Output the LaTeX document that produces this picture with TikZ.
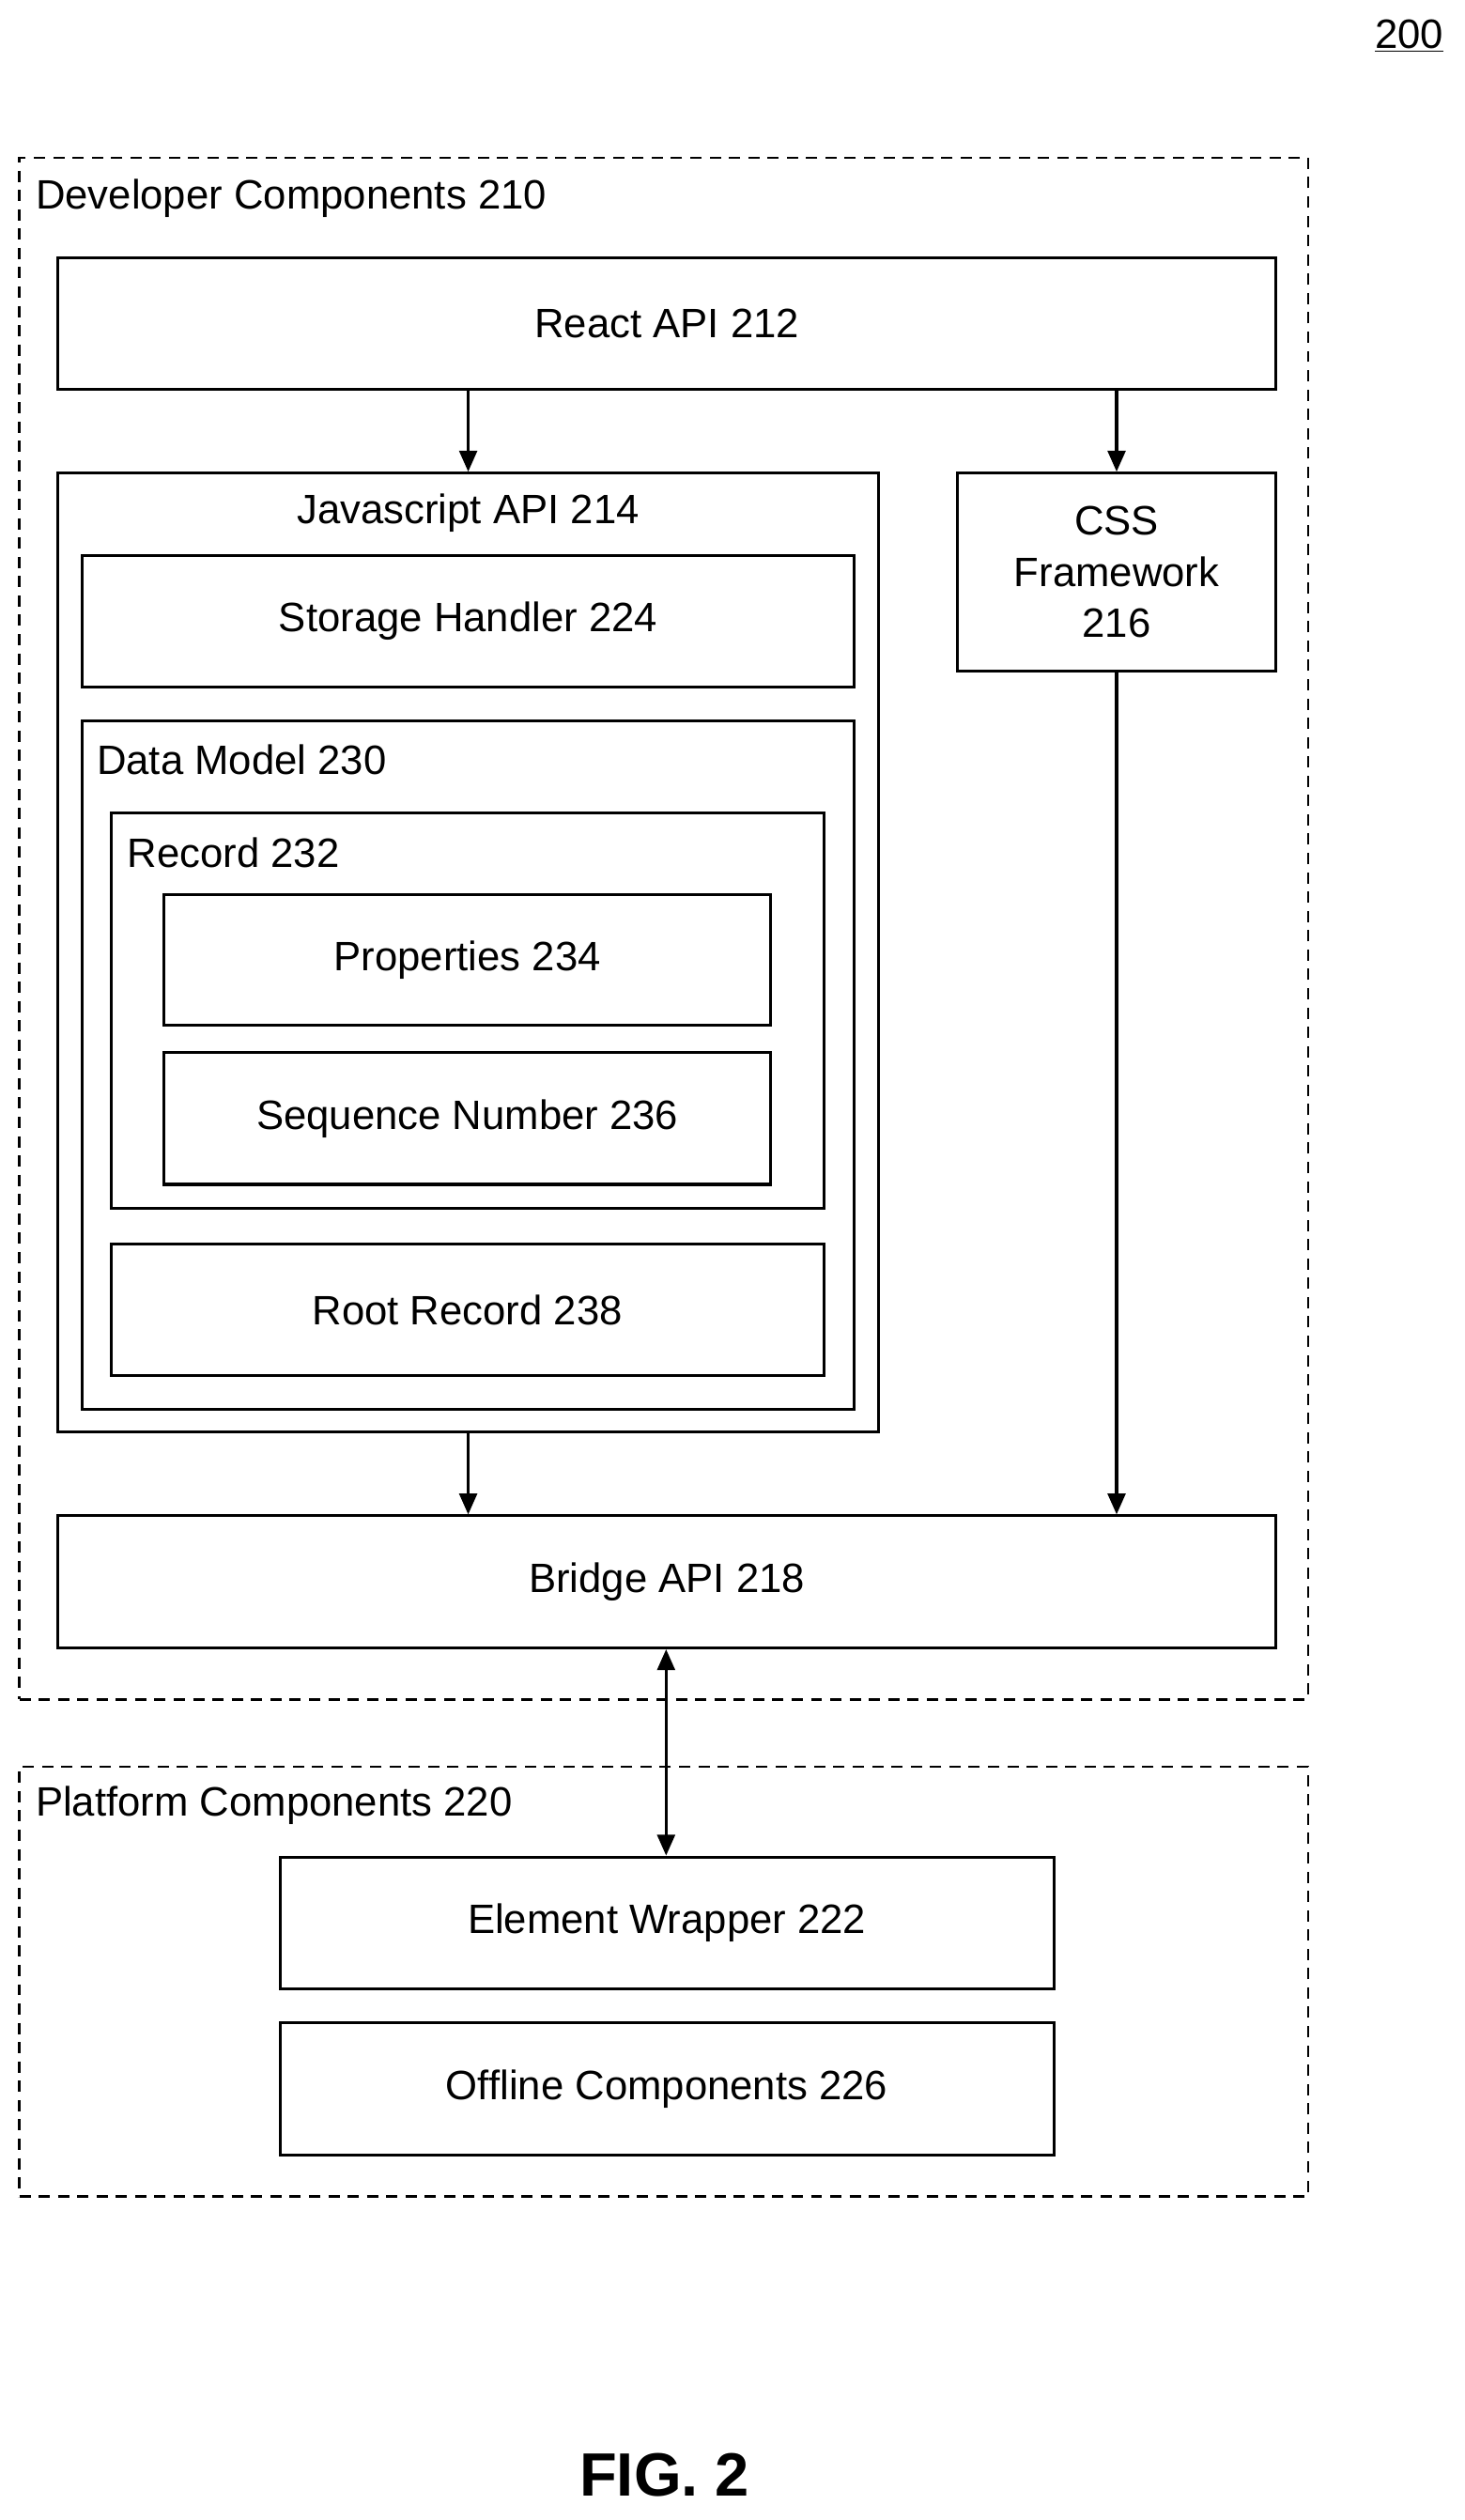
\documentclass[tikz,border=0pt]{standalone}
\usepackage{fontspec}
\setmainfont{Liberation Sans}
\usetikzlibrary{arrows.meta}
\begin{document}
\begin{tikzpicture}[x=1pt,y=-1pt,
  box/.style={draw,line width=1.8pt,rectangle,inner sep=0pt,font=\fontsize{25.5}{30}\selectfont,align=center},
  grp/.style={draw,line width=1.5pt,dash pattern=on 7pt off 5pt,rectangle,inner sep=0pt},
  lbl/.style={anchor=west,font=\fontsize{25.5}{30}\selectfont,inner sep=0pt},
  arr/.style={line width=1.8pt,-{Triangle[length=13pt,width=11pt]}},
  darr/.style={line width=1.8pt,{Triangle[length=13pt,width=11pt]}-{Triangle[length=13pt,width=11pt]}}]
\useasboundingbox (0,0) rectangle (910,1566);
\fill[white] (0,0) rectangle (910,1566);
\newcommand{\bx}[6]{\node[#6,minimum width={#4-#2},minimum height={#5-#3}] (#1) at ({(#2+#4)/2},{(#3+#5)/2}) {};}
\bx{dev}{12}{98}{813}{1056}{grp}
\bx{plat}{12}{1098}{813}{1365}{grp}
\bx{react}{36}{160}{793}{242}{box}
\bx{js}{36}{294}{546}{890}{box}
\bx{css}{595}{294}{793}{417}{box}
\bx{stor}{51}{345}{531}{427}{box}
\bx{dm}{51}{448}{531}{876}{box}
\bx{rec}{69}{505}{512}{751}{box}
\bx{prop}{102}{556}{479}{637}{box}
\bx{seq}{102}{654}{479}{736}{box}
\bx{root}{69}{773}{512}{855}{box}
\bx{bridge}{36}{942}{793}{1024}{box}
\bx{elem}{174}{1154}{655}{1236}{box}
\bx{off}{174}{1257}{655}{1339}{box}
\tikzset{t/.style={font=\fontsize{25.5}{32}\selectfont,align=center}}
\node[t] at (react) {React API 212};
\node[t] at (291,319) {Javascript API 214};
\node[t] at (css) {CSS\\Framework\\216};
\node[t] at (stor) {Storage Handler 224};
\node[t] at (prop) {Properties 234};
\node[t] at (seq) {Sequence Number 236};
\node[t] at (root) {Root Record 238};
\node[t] at (bridge) {Bridge API 218};
\node[t] at (elem) {Element Wrapper 222};
\node[t] at (off) {Offline Components 226};
\node[lbl] (l1) at (22,123) {Developer Components 210};
\node[lbl] (l2) at (22,1122) {Platform Components 220};
\node[lbl] (l3) at (60,472) {Data Model 230};
\node[lbl] (l4) at (79,530) {Record 232};
\node[t,inner sep=0pt] (n200) at (876,22) {\underline{200}};
\node[font=\bfseries\fontsize{38}{44}\selectfont] (fig) at (413,1538) {FIG. 2};
\draw[arr] (react.south -| 291,0) -- (js.north -| 291,0);
\draw[arr] (react.south -| css.north) -- (css.north);
\draw[arr] (js.south -| 291,0) -- (bridge.north -| 291,0);
\draw[arr] (css.south) -- (bridge.north -| css.south);
\draw[darr] (bridge.south -| 414,0) -- (elem.north -| 414,0);
\end{tikzpicture}
\end{document}
